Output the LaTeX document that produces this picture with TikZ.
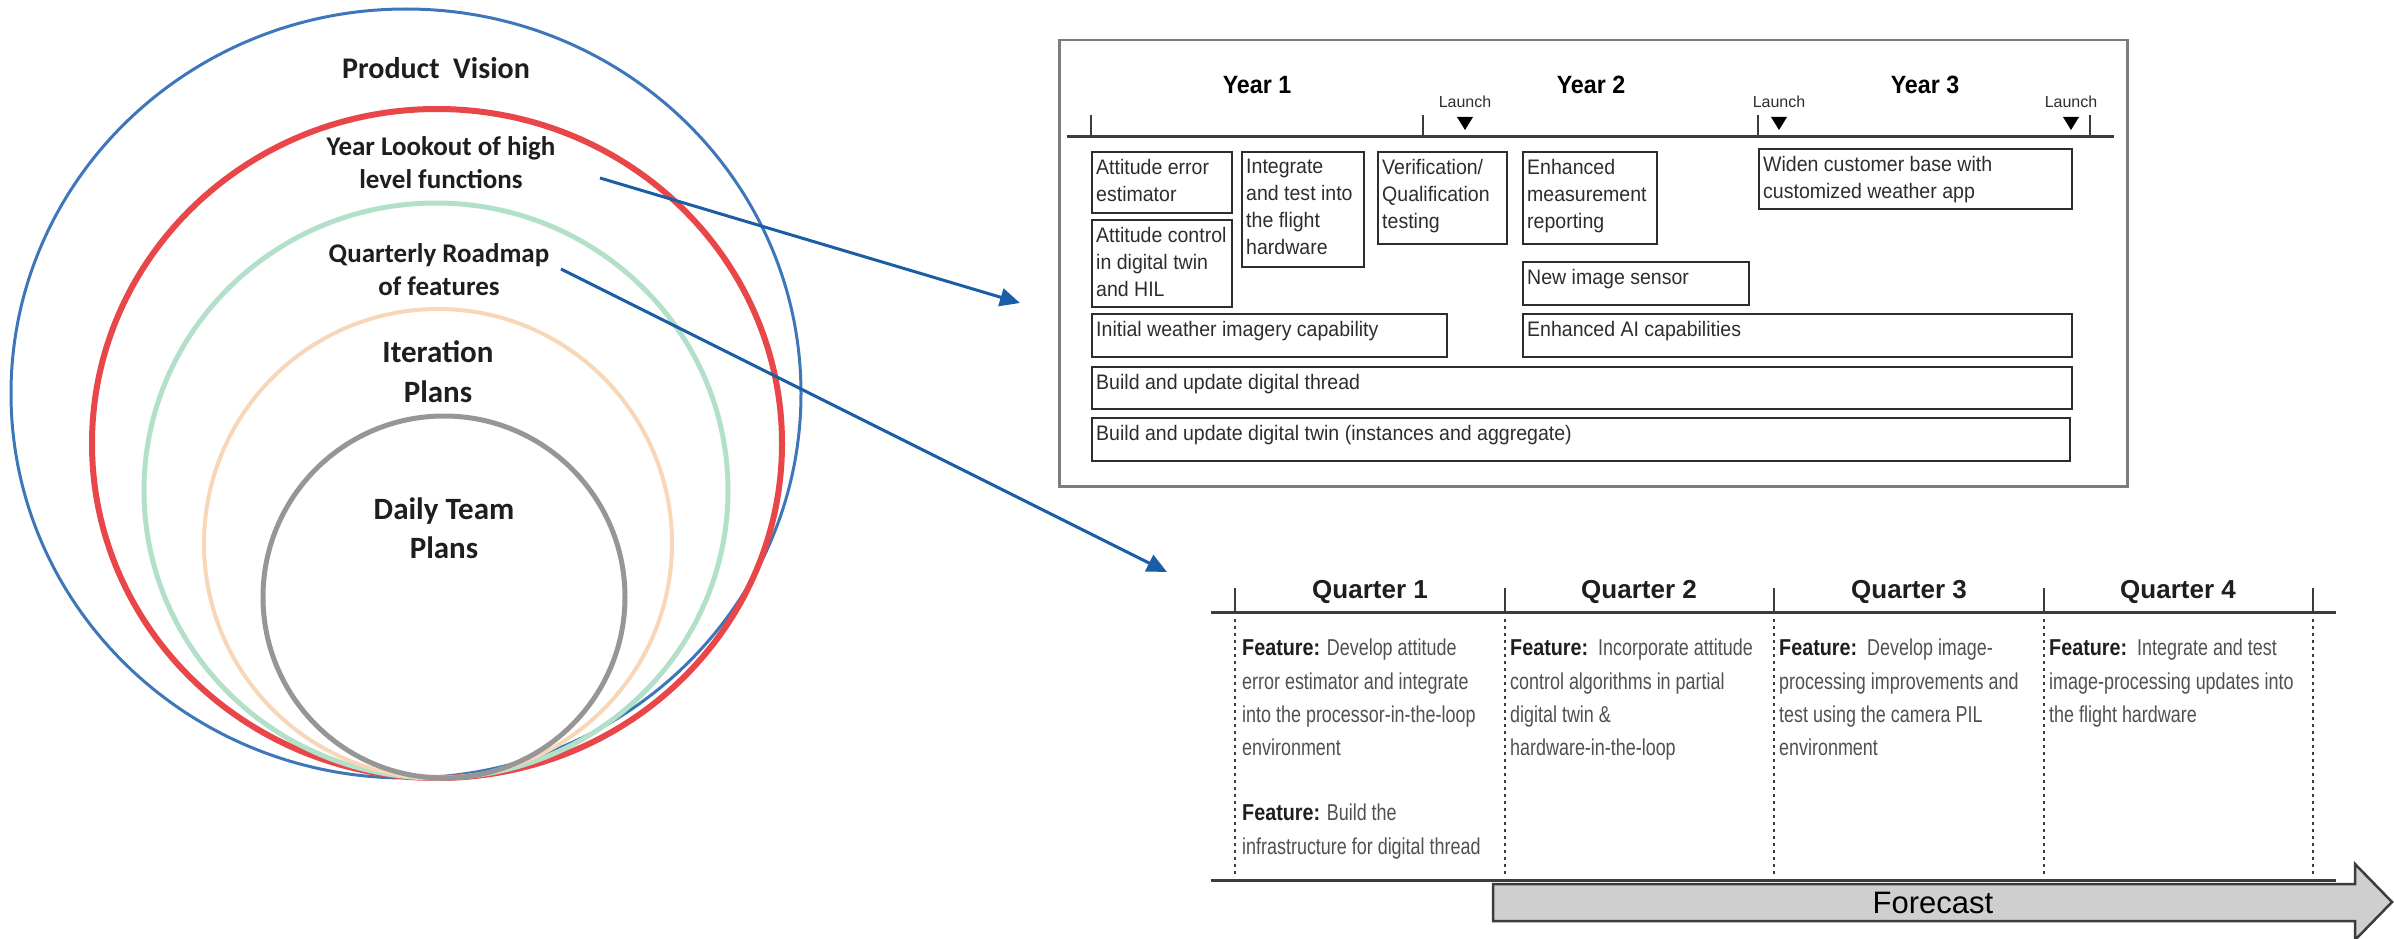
\documentclass[tikz,border=0pt]{standalone}
\usepackage{fontspec}
\setmainfont{Liberation Sans}
\newfontfamily\ringfont{Carlito}
\newfontfamily\boxfont[FakeStretch=0.93]{Liberation Sans}
\newfontfamily\featfont[FakeStretch=0.78]{Liberation Sans}
\newfontfamily\featbold[FakeStretch=0.86]{Liberation Sans}
\usetikzlibrary{arrows.meta}

\definecolor{ringblue}{RGB}{62,118,186}
\definecolor{ringred}{RGB}{232,70,72}
\definecolor{ringgreen}{RGB}{178,224,200}
\definecolor{ringorange}{RGB}{248,214,184}
\definecolor{ringgray}{RGB}{150,150,150}
\definecolor{ringink}{RGB}{30,30,30}
\definecolor{arrowblue}{RGB}{26,94,168}
\definecolor{framegray}{RGB}{125,125,125}
\definecolor{boxink}{RGB}{45,45,45}
\definecolor{ruleink}{RGB}{60,60,60}
\definecolor{featink}{RGB}{80,80,80}
\definecolor{featdark}{RGB}{30,30,30}
\definecolor{forecastfill}{RGB}{208,207,207}

\newcommand{\featlead}{{\featbold\bfseries\color{featdark}Feature:}}

% one roadmap box: name, left, top, right, bottom, text
\newcommand{\roadbox}[6]{%
  \node[rbox, minimum width={#4-#2}, minimum height={#5-#3}] (#1) at (#2,#3) {};
  \node[rtext] (#1-t) at (#1.north west) {#6};
}

\tikzset{
  ringlabel/.style={text=ringink, align=center, inner sep=0pt},
  rbox/.style={draw=boxink, line width=2pt, inner sep=0pt, anchor=north west},
  rtext/.style={font=\boxfont\fontsize{21}{27}\selectfont, text=boxink, align=left,
    anchor=north west, inner xsep=5pt, inner ysep=8pt},
  yearlbl/.style={font=\boxfont\bfseries\fontsize{25}{30}\selectfont, text=black, inner sep=0pt},
  launchlbl/.style={font=\fontsize{16}{18}\selectfont, text=boxink, inner sep=0pt},
  qlbl/.style={font=\bfseries\fontsize{26}{30}\selectfont, text=featdark, inner sep=0pt},
  feat/.style={font=\featfont\fontsize{23}{33.3}\selectfont, text=featink, align=left,
    anchor=north west, inner sep=0pt},
  link/.style={draw=arrowblue, line width=3pt, -{Triangle[length=20pt,width=18pt]}},
  rule/.style={draw=ruleink, line width=3pt},
  tickmark/.style={draw=ruleink, line width=2pt},
  qdash/.style={draw=ruleink, line width=2pt, dash pattern=on 3pt off 4pt},
  launchmark/.style={fill=black},
}

\begin{document}
\begin{tikzpicture}[x=1pt, y=-1pt]
\useasboundingbox (0,0) rectangle (2394,939);

% ---------- nested planning horizons ----------
\draw[ringblue, line width=3pt]   (406,393.5) ellipse [x radius=395, y radius=384.5];
\draw[ringred, line width=6pt]    (437,443.5) ellipse [x radius=345, y radius=334.5];
\draw[ringgreen, line width=5pt]  (436,490.5) ellipse [x radius=292, y radius=287.5];
\draw[ringorange, line width=4pt] (438,543.5) ellipse [x radius=234, y radius=234.5];
\draw[ringgray, line width=5pt]   (444,597)   ellipse [x radius=181, y radius=181];

\node[ringlabel, font=\ringfont\bfseries\fontsize{30}{36}\selectfont] (vision) at (436,68) {Product\ \ Vision};
\node[ringlabel, font=\ringfont\bfseries\fontsize{27}{33}\selectfont] (year) at (441,163) {Year Lookout of high\\level functions};
\node[ringlabel, font=\ringfont\bfseries\fontsize{27}{33}\selectfont] (quarter) at (439,270) {Quarterly Roadmap\\of features};
\node[ringlabel, font=\ringfont\bfseries\fontsize{31}{40}\selectfont] (iteration) at (438,372) {Iteration\\Plans};
\node[ringlabel, font=\ringfont\bfseries\fontsize{31}{39}\selectfont] (daily) at (444,528) {Daily Team\\Plans};

% ---------- links to the detailed roadmaps ----------
\coordinate (year-out) at (600,178);
\coordinate (year-in) at (1020,303);
\coordinate (quarter-out) at (561,269);
\coordinate (quarter-in) at (1167,572);
\draw[link] (year-out) -- (year-in);
\draw[link] (quarter-out) -- (quarter-in);

% ---------- three-year roadmap ----------
\node[draw=framegray, line width=2.5pt, inner sep=0pt, anchor=north west,
      minimum width=1068pt, minimum height=446pt] (yframe) at (1058,39) {};

\node[yearlbl] (y1) at (1257,85) {Year 1};
\node[yearlbl] (y2) at (1591,85) {Year 2};
\node[yearlbl] (y3) at (1925,85) {Year 3};

\node[launchlbl] (l1) at (1465,102) {Launch};
\node[launchlbl] (l2) at (1779,102) {Launch};
\node[launchlbl] (l3) at (2071,102) {Launch};
\fill[launchmark] (1457,117) -- (1473,117) -- (1465,130) -- cycle;
\fill[launchmark] (1771,117) -- (1787,117) -- (1779,130) -- cycle;
\fill[launchmark] (2063,117) -- (2079,117) -- (2071,130) -- cycle;

\draw[rule] (1067,137) -- (2114,137);
\foreach \tx in {1091,1423,1758,2090}
  \draw[tickmark] (\tx,115) -- (\tx,137);

\roadbox{aee}{1091}{151}{1231}{212}{Attitude error\\estimator}
\roadbox{actl}{1091}{219}{1231}{306}{Attitude control\\in digital twin\\and HIL}
\roadbox{integ}{1241}{151}{1363}{266}{Integrate\\and test into\\the flight\\hardware}
\roadbox{verif}{1377}{151}{1506}{243}{Verification/\\Qualification\\testing}
\roadbox{meas}{1522}{151}{1656}{243}{Enhanced\\measurement\\reporting}
\roadbox{sensor}{1522}{261}{1748}{304}{New image sensor}
\roadbox{widen}{1758}{148}{2071}{208}{Widen customer base with\\customized weather app}
\roadbox{imagery}{1091}{313}{1446}{356}{Initial weather imagery capability}
\roadbox{ai}{1522}{313}{2071}{356}{Enhanced AI capabilities}
\roadbox{thread}{1091}{366}{2071}{408}{Build and update digital thread}
\roadbox{twin}{1091}{417}{2069}{460}{Build and update digital twin (instances and aggregate)}

% ---------- quarterly roadmap ----------
\node[qlbl] (q1) at (1370,592) {Quarter 1};
\node[qlbl] (q2) at (1639,592) {Quarter 2};
\node[qlbl] (q3) at (1909,592) {Quarter 3};
\node[qlbl] (q4) at (2178,592) {Quarter 4};

\draw[rule] (1211,612) -- (2336,612);
\draw[rule] (1211,880) -- (2336,880);
\foreach \qx in {1235,1504.5,1774,2043.5,2313} {
  \draw[tickmark] (\qx,588) -- (\qx,612);
  \draw[qdash] (\qx,619) -- (\qx,874);
}

\node[feat] (f1) at (1242,639) {\featlead{} Develop attitude\\error estimator and integrate\\into the processor-in-the-loop\\environment};
\node[feat] (f1b) at (1242,804) {\featlead{} Build the\\infrastructure for digital thread};
\node[feat] (f2) at (1510,639) {\featlead{}\ \ Incorporate attitude\\control algorithms in partial\\digital twin \&\\hardware-in-the-loop};
\node[feat] (f3) at (1779,639) {\featlead{}\ \ Develop image-\\processing improvements and\\test using the camera PIL\\environment};
\node[feat] (f4) at (2049,639) {\featlead{}\ \ Integrate and test\\image-processing updates into\\the flight hardware};

% forecast arrow
\filldraw[fill=forecastfill, draw=ruleink, line width=2.5pt, line join=miter]
  (1493,884) -- (2355,884) -- (2355,864) -- (2392,902) -- (2355,940) -- (2355,921) -- (1493,921) -- cycle;
\node[font=\fontsize{31}{36}\selectfont, text=black, inner sep=0pt] (forecast) at (1933,903) {Forecast};
\end{tikzpicture}
\end{document}
